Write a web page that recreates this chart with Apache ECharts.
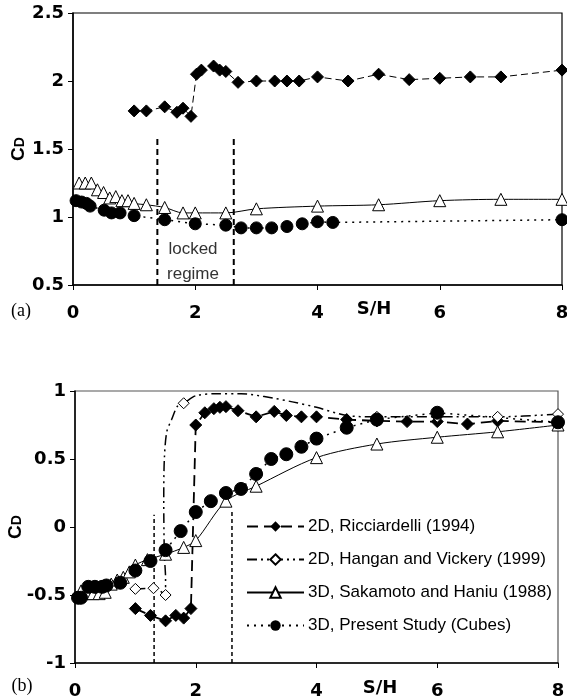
<!DOCTYPE html>
<html>
<head>
<meta charset="utf-8">
<script src="https://cdn.jsdelivr.net/npm/echarts@6/dist/echarts.min.js"></script>
<style>
  html, body { margin: 0; padding: 0; background: #fff; }
  #main { width: 567px; height: 699px; }
</style>
</head>
<body>
<div id="main"></div>
<script>
var chart = echarts.init(document.getElementById('main'));

// ---- panel (a) ----
var a2dX = [1.0, 1.2, 1.5, 1.7, 1.8, 1.93, 2.02, 2.1, 2.3, 2.4, 2.5, 2.7, 3.0, 3.3, 3.5, 3.7, 4.0, 4.5, 5.0, 5.5, 6.0, 6.5, 7.0, 8.0];
var a2dY = [1.78, 1.78, 1.81, 1.77, 1.80, 1.74, 2.05, 2.08, 2.11, 2.08, 2.07, 1.99, 2.0, 2.0, 2.0, 2.0, 2.03, 2.0, 2.05, 2.01, 2.02, 2.03, 2.03, 2.08];
var aSakX = [0.1, 0.2, 0.3, 0.4, 0.5, 0.6, 0.7, 0.8, 0.9, 1.0, 1.2, 1.5, 1.8, 2.0, 2.5, 3.0, 4.0, 5.0, 6.0, 7.0, 8.0];
var aSakY = [1.25, 1.25, 1.25, 1.20, 1.18, 1.14, 1.15, 1.12, 1.12, 1.10, 1.09, 1.07, 1.03, 1.03, 1.03, 1.06, 1.08, 1.09, 1.12, 1.13, 1.13];
var aCubeX = [0.05, 0.14, 0.22, 0.28, 0.51, 0.63, 0.77, 1.0, 1.5, 2.0, 2.5, 2.75, 3.0, 3.25, 3.5, 3.75, 4.0, 4.25, 8.0];
var aCubeY = [1.12, 1.11, 1.10, 1.08, 1.05, 1.03, 1.03, 1.01, 0.98, 0.95, 0.94, 0.92, 0.92, 0.92, 0.93, 0.95, 0.965, 0.96, 0.98];
var aLockX = [1.38, 2.63];
var aLockTop = [1.6, 1.58];

// ---- panel (b) ----
var bRicX = [1.0, 1.25, 1.5, 1.67, 1.8, 1.92, 2.0, 2.15, 2.3, 2.4, 2.5, 2.7, 3.0, 3.3, 3.5, 3.75, 4.0, 4.5, 5.0, 5.5, 6.0, 6.5, 7.0, 8.0];
var bRicY = [-0.60, -0.65, -0.69, -0.65, -0.67, -0.60, 0.75, 0.84, 0.87, 0.88, 0.885, 0.855, 0.81, 0.85, 0.82, 0.81, 0.81, 0.79, 0.78, 0.775, 0.775, 0.757, 0.78, 0.77];
var bHanX = [1.0, 1.3, 1.5, 1.8, 5.0, 6.0, 7.0, 8.0];
var bHanY = [-0.455, -0.45, -0.50, 0.91, 0.81, 0.81, 0.81, 0.83];
var bHanCurveX = [1.0, 1.3, 1.5, 1.5, 1.48, 1.47, 1.48, 1.52, 1.6, 1.7, 1.8, 2.0, 2.35, 2.75, 3.25, 3.6, 4.0, 4.5, 5.0, 6.0, 7.0, 8.0];
var bHanCurveY = [-0.455, -0.45, -0.50, -0.38, -0.2, 0.2, 0.5, 0.7, 0.79, 0.89, 0.91, 0.965, 0.98, 0.98, 0.95, 0.92, 0.88, 0.82, 0.81, 0.81, 0.81, 0.83];
var bSakX = [0.1, 0.2, 0.3, 0.4, 0.5, 0.6, 0.7, 0.8, 0.9, 1.0, 1.2, 1.5, 1.8, 2.0, 2.5, 3.0, 4.0, 5.0, 6.0, 7.0, 8.0];
var bSakY = [-0.47, -0.49, -0.49, -0.49, -0.48, -0.42, -0.39, -0.37, -0.33, -0.28, -0.24, -0.20, -0.15, -0.10, 0.19, 0.30, 0.51, 0.61, 0.66, 0.70, 0.75];
var bCubeX = [0.05, 0.1, 0.22, 0.33, 0.45, 0.52, 0.75, 1.0, 1.25, 1.5, 1.75, 2.0, 2.25, 2.5, 2.75, 3.0, 3.25, 3.5, 3.75, 4.0, 4.5, 5.0, 6.0, 8.0];
var bCubeY = [-0.52, -0.52, -0.44, -0.44, -0.44, -0.43, -0.41, -0.32, -0.25, -0.17, -0.03, 0.11, 0.19, 0.25, 0.28, 0.39, 0.50, 0.535, 0.59, 0.65, 0.73, 0.79, 0.84, 0.77];
var bLockX = [1.31, 2.6];
var bLockTop = [0.09, 0.11];

var legendNames = ['2D, Ricciardelli (1994)', '2D, Hangan and Vickery (1999)', '3D, Sakamoto and Haniu (1988)', '3D, Present Study (Cubes)'];

function zip(xs, ys) {
  return xs.map(function (x, i) { return [x, ys[i]]; });
}

// Hangan curve: diamonds only where the curve passes a measured point
var hanganData = bHanCurveX.map(function (x, i) {
  var y = bHanCurveY[i];
  var isPoint = bHanX.some(function (hx, j) { return hx === x && bHanY[j] === y; });
  return isPoint ? { value: [x, y] } : { value: [x, y], symbol: 'none' };
});

var boldFamily = '"DejaVu Sans", sans-serif';
var plainFamily = '"Liberation Sans", Arial, sans-serif';
var tickFont = { color: '#000', fontSize: 18, fontWeight: 'bold', fontFamily: boldFamily };

function yName(gap) {
  return {
    name: '{c|C}{d|D}',
    nameLocation: 'middle',
    nameRotate: 90,
    nameGap: gap,
    nameMoveOverlap: false,
    nameTextStyle: {
      rich: {
        c: { fontSize: 19, fontWeight: 'bold', color: '#000', fontFamily: plainFamily },
        d: { fontSize: 14, fontWeight: 'bold', color: '#000', fontFamily: plainFamily, padding: [4, 0, 0, 0] }
      }
    }
  };
}

var xAxisBase = {
  type: 'value', min: 0, max: 8, interval: 2,
  axisLine: { onZero: false, lineStyle: { color: '#000', width: 1.5 } },
  axisTick: { show: true, length: 5, lineStyle: { color: '#000' } },
  axisLabel: Object.assign({ margin: 19 }, tickFont),
  splitLine: { show: false }
};

var yAxisBase = {
  type: 'value',
  axisLine: { show: true, onZero: false, lineStyle: { color: '#000', width: 1.5 } },
  axisTick: { show: true, length: 5, lineStyle: { color: '#000' } },
  axisLabel: Object.assign({ margin: 9 }, tickFont),
  splitLine: { show: false }
};

var blackFill = { color: '#000', borderColor: '#000' };
var whiteFill = { color: '#fff', borderColor: '#000', borderWidth: 1 };

var option = {
  backgroundColor: '#fff',
  animation: false,
  grid: [
    { left: 73, top: 13, width: 489, height: 272, outerBoundsMode: 'none', containLabel: false, show: true, borderColor: '#000', borderWidth: 1.2, backgroundColor: 'transparent' },
    { left: 75, top: 391, width: 483, height: 272, outerBoundsMode: 'none', containLabel: false, show: true, borderColor: '#555', borderWidth: 1.2, backgroundColor: 'transparent' }
  ],
  xAxis: [
    Object.assign({ gridIndex: 0 }, xAxisBase),
    Object.assign({ gridIndex: 1 }, xAxisBase)
  ],
  yAxis: [
    Object.assign({ gridIndex: 0, min: 0.5, max: 2.5, interval: 0.5 }, yAxisBase, yName(45)),
    Object.assign({ gridIndex: 1, min: -1, max: 1, interval: 0.5 }, yAxisBase, yName(50))
  ],
  legend: {
    orient: 'vertical',
    left: 246,
    top: 518,
    padding: 0,
    itemWidth: 57,
    itemHeight: 13,
    itemGap: 16,
    textStyle: { color: '#000', fontSize: 17, fontFamily: plainFamily, padding: [0, 0, 0, -1] },
    data: legendNames
  },
  series: [
    // panel (a)
    {
      type: 'line', xAxisIndex: 0, yAxisIndex: 0, clip: false,
      data: zip(a2dX, a2dY), symbol: 'diamond', symbolSize: 12,
      itemStyle: blackFill, lineStyle: { color: '#000', width: 1, type: [7, 4] }
    },
    {
      type: 'line', xAxisIndex: 0, yAxisIndex: 0, clip: false, smooth: 0.3,
      data: zip(aSakX, aSakY), symbol: 'triangle', symbolSize: 12,
      itemStyle: whiteFill, lineStyle: { color: '#000', width: 1 }
    },
    {
      type: 'line', xAxisIndex: 0, yAxisIndex: 0, clip: false,
      data: zip(aCubeX, aCubeY), symbol: 'circle', symbolSize: 12,
      itemStyle: blackFill, lineStyle: { color: '#000', width: 1.5, type: [2, 5] }
    },
    {
      type: 'line', xAxisIndex: 0, yAxisIndex: 0, symbol: 'none',
      data: [[aLockX[0], 0.5], [aLockX[0], aLockTop[0]]],
      lineStyle: { color: '#000', width: 2, type: [6, 4] }
    },
    {
      type: 'line', xAxisIndex: 0, yAxisIndex: 0, symbol: 'none',
      data: [[aLockX[1], 0.5], [aLockX[1], aLockTop[1]]],
      lineStyle: { color: '#000', width: 2, type: [6, 4] }
    },
    // panel (b)
    {
      name: legendNames[0],
      type: 'line', xAxisIndex: 1, yAxisIndex: 1, clip: false,
      data: zip(bRicX, bRicY), symbol: 'diamond', symbolSize: 12,
      itemStyle: blackFill, lineStyle: { color: '#000', width: 1.8, type: [11, 6] }
    },
    {
      name: legendNames[1],
      type: 'line', xAxisIndex: 1, yAxisIndex: 1, clip: false, smooth: 0.3,
      data: hanganData, symbol: 'diamond', symbolSize: 11,
      itemStyle: whiteFill, lineStyle: { color: '#000', width: 1.5, type: [10, 4, 2, 4, 2, 4] }
    },
    {
      name: legendNames[2],
      type: 'line', xAxisIndex: 1, yAxisIndex: 1, clip: false, smooth: 0.3,
      data: zip(bSakX, bSakY), symbol: 'triangle', symbolSize: 12,
      itemStyle: whiteFill, lineStyle: { color: '#000', width: 1 }
    },
    {
      name: legendNames[3],
      type: 'line', xAxisIndex: 1, yAxisIndex: 1, clip: false,
      data: zip(bCubeX, bCubeY), symbol: 'circle', symbolSize: 13,
      itemStyle: blackFill, lineStyle: { color: '#000', width: 1.5, type: [2, 5] }
    },
    {
      type: 'line', xAxisIndex: 1, yAxisIndex: 1, symbol: 'none',
      data: [[bLockX[0], -1], [bLockX[0], bLockTop[0]]],
      lineStyle: { color: '#000', width: 1.5, type: [4, 3] }
    },
    {
      type: 'line', xAxisIndex: 1, yAxisIndex: 1, symbol: 'none',
      data: [[bLockX[1], -1], [bLockX[1], bLockTop[1]]],
      lineStyle: { color: '#000', width: 1.5, type: [4, 3] }
    }
  ],
  graphic: [
    { type: 'text', x: 193, y: 249, style: { text: 'locked', fill: '#333', fontSize: 17, fontFamily: plainFamily, align: 'center', verticalAlign: 'middle' } },
    { type: 'text', x: 193, y: 274, style: { text: 'regime', fill: '#333', fontSize: 17, fontFamily: plainFamily, align: 'center', verticalAlign: 'middle' } },
    { type: 'text', x: 374, y: 309, style: { text: 'S/H', fill: '#000', fontSize: 18, fontWeight: 'bold', fontFamily: boldFamily, align: 'center', verticalAlign: 'middle' } },
    { type: 'text', x: 380, y: 688, style: { text: 'S/H', fill: '#000', fontSize: 18, fontWeight: 'bold', fontFamily: boldFamily, align: 'center', verticalAlign: 'middle' } },
    { type: 'text', x: 21, y: 311, style: { text: '(a)', fill: '#000', fontSize: 18, fontFamily: '"Liberation Serif", "Times New Roman", serif', align: 'center', verticalAlign: 'middle' } },
    { type: 'text', x: 22, y: 686, style: { text: '(b)', fill: '#000', fontSize: 18, fontFamily: '"Liberation Serif", "Times New Roman", serif', align: 'center', verticalAlign: 'middle' } }
  ]
};

chart.setOption(option);
</script>
</body>
</html>
